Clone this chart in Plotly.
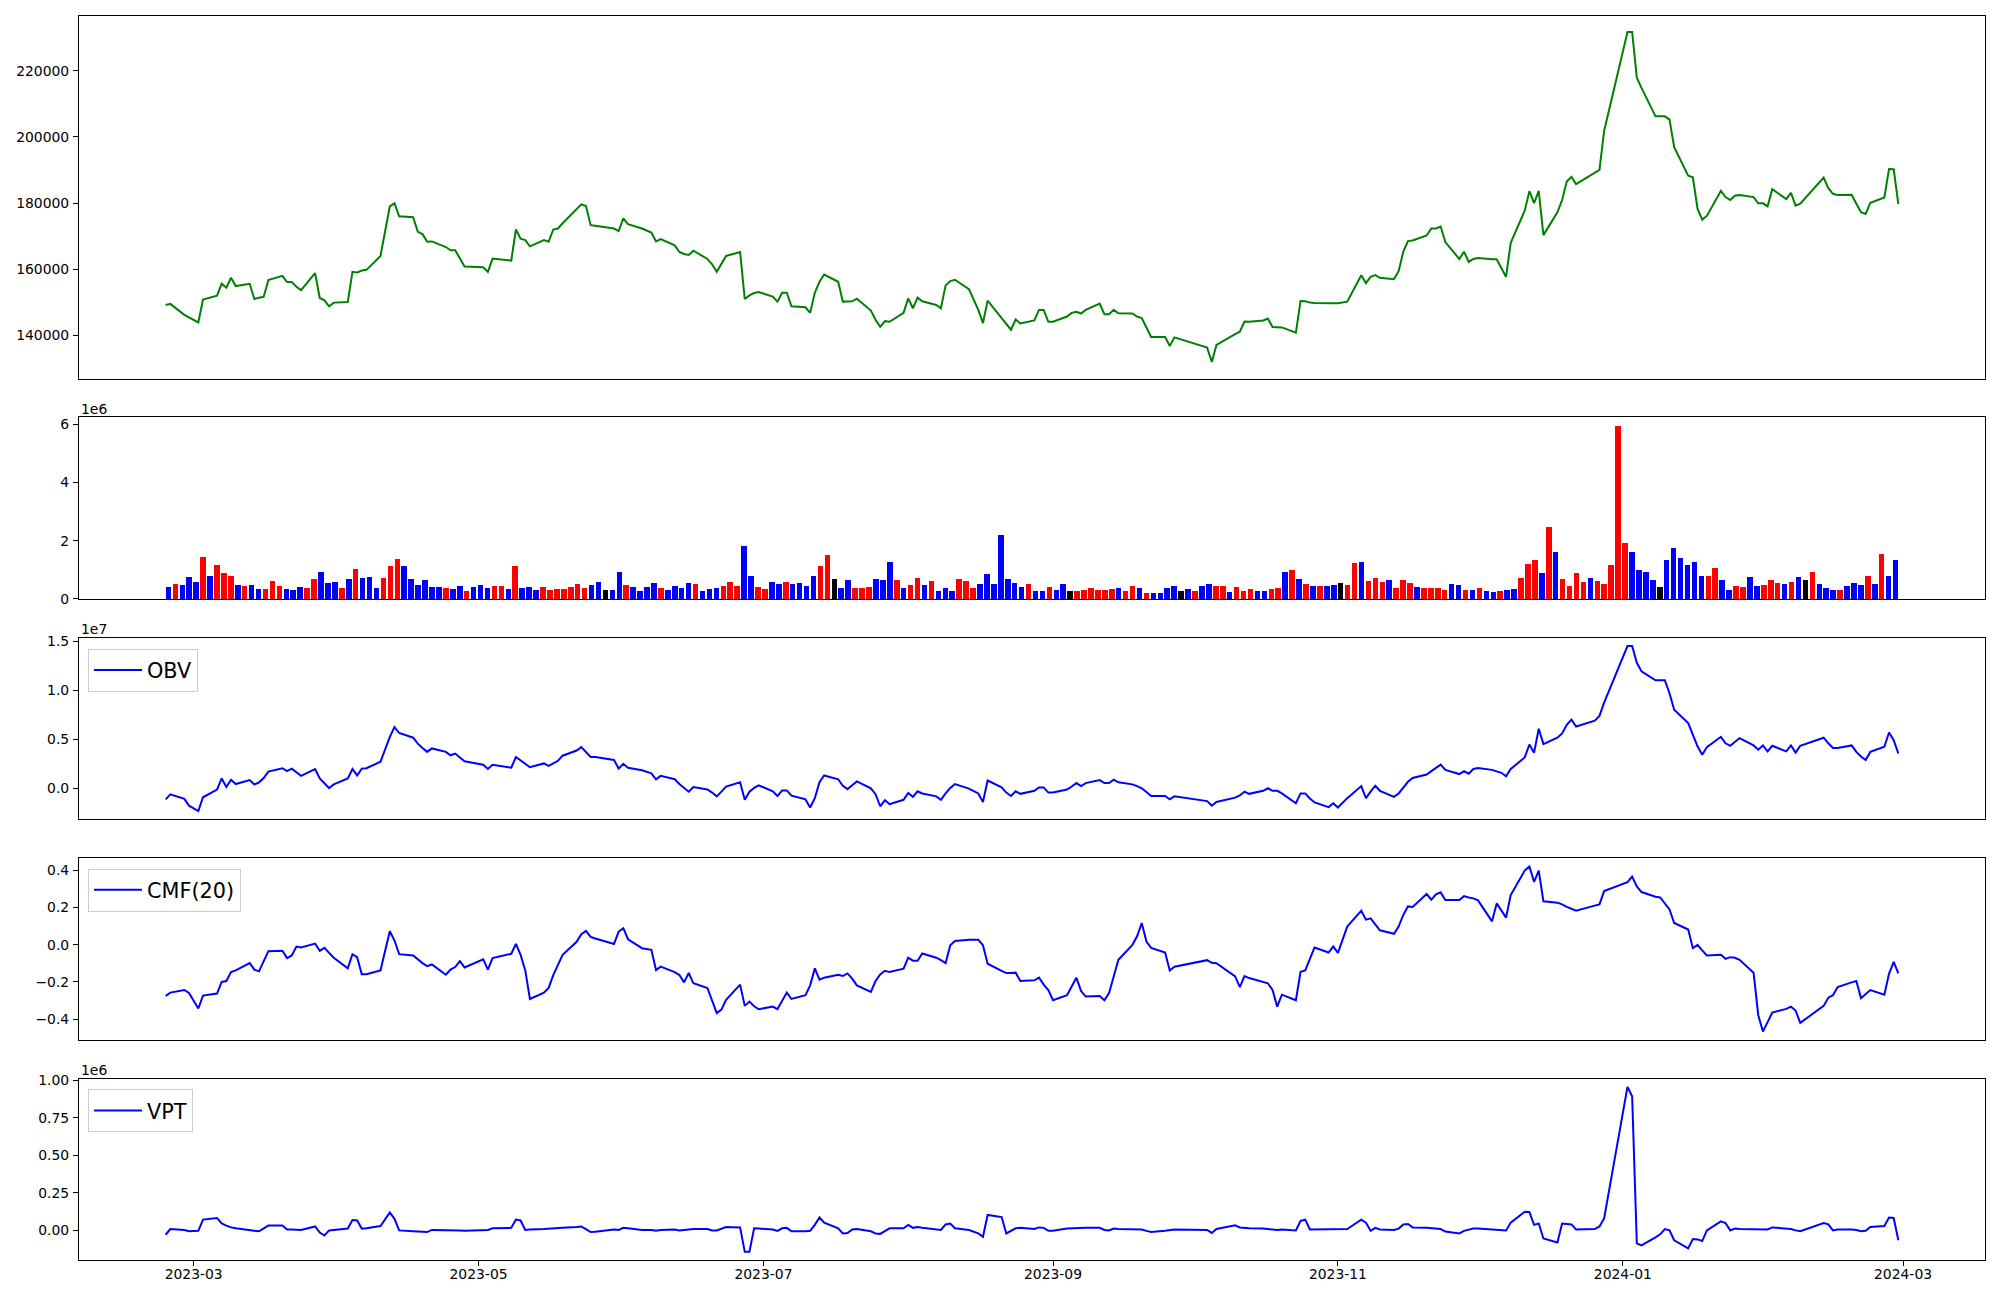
import pandas as pd
import plotly.graph_objects as go

# ---------------- data ----------------
KRX_HOLIDAYS = ["2023-03-01", "2023-05-01", "2023-05-05", "2023-05-29", "2023-06-06",
                "2023-08-15", "2023-09-28", "2023-09-29", "2023-10-02", "2023-10-03",
                "2023-10-09", "2023-12-25", "2023-12-29", "2024-01-01", "2024-02-09",
                "2024-02-12"]
dates = pd.bdate_range("2023-02-23", "2024-02-29", freq="C", holidays=KRX_HOLIDAYS)

close = [
    149200, 149500, 146200, 145400, 143900, 150800, 152000, 155600, 154400, 157400,
    154900, 155600, 151000, 151400, 151700, 156700, 158000, 156100, 156100, 154700,
    153700, 158800, 151300, 150600, 148800, 149900, 150100, 159200, 159000, 159600,
    159800, 164000, 171500, 179000, 179900, 176000, 175700, 171300, 170600, 168300,
    168400, 166700, 165700, 165700, 163300, 160800, 160600, 159200, 163200, 162600,
    172000, 169200, 168800, 166900, 168800, 168300, 172000, 172300, 173900, 178000,
    179600, 179100,
    173300, 173100, 172300, 171500, 175400, 173600, 172300, 171100, 168400, 169100,
    167200, 165200, 164600, 164300, 165600, 163100, 161500, 159200, 161800, 164000,
    165200, 151000, 152100, 152800, 153100, 151700, 150200, 152900, 152900, 148800,
    148500, 146800, 152900, 156200, 158400, 156200, 150200, 150200, 150300, 151100,
    147500, 144700, 142600, 144300, 144100, 146800, 151200, 148200, 151400, 150300,
    149200, 148200, 155100, 156400, 156800, 154000, 147700, 143700, 150500, 145200,
    143500, 141700, 144800, 143600,
    144500, 147700, 147700, 144100, 144100, 145700, 146800, 147100, 146600, 147700,
    149600, 146400, 146400, 147700, 146700, 146600, 145700, 145200, 142400, 139500,
    139500, 136800, 139400, 136300, 131950, 137100, 140400, 141100, 144200, 144100,
    144500, 145100, 142500, 142400, 142400, 140800, 150400, 150300, 149900, 149800,
    149600, 149700, 149700, 149900, 150200, 158200, 155800, 157700, 158200, 157400,
    157000, 159400, 165300, 168500, 168700, 170200, 172300, 172300, 172900, 168200,
    163100, 165300, 162200,
    163100, 163400, 163000, 163000, 160300, 157700, 168000,
    177700, 183600, 180000, 183700, 170300, 177200, 180900, 186500, 187900, 185700,
    189100, 190000, 201800,
    231700, 231700, 217900, 214800, 206200, 206200, 206200, 205200, 196900, 188300,
    187800, 178300, 175000, 176100, 183700, 181800, 180900, 182200, 182400, 181800,
    179900, 179900, 179000, 184200, 181200, 183100, 179200, 179800, 187700, 184500,
    182800, 182400, 182500, 179800, 177200, 176700, 180100, 181700, 190300, 190200,
    179700,
]

volume_e6 = [
    0.39, 0.49, 0.46, 0.73, 0.56, 1.44, 0.79, 1.14, 0.87, 0.77,
    0.46, 0.42, 0.46, 0.33, 0.33, 0.60, 0.42, 0.33, 0.29, 0.39,
    0.35, 0.66, 0.90, 0.52, 0.56, 0.35, 0.66, 1.00, 0.70, 0.73,
    0.35, 0.70, 1.10, 1.35, 1.10, 0.66, 0.46, 0.62, 0.39, 0.39,
    0.35, 0.33, 0.42, 0.25, 0.39, 0.46, 0.35, 0.42, 0.42, 0.33,
    1.10, 0.35, 0.39, 0.29, 0.39, 0.29, 0.33, 0.33, 0.39, 0.49,
    0.35, 0.46,
    0.56, 0.29, 0.29, 0.90, 0.46, 0.39, 0.25, 0.39, 0.52, 0.35,
    0.29, 0.42, 0.35, 0.52, 0.49, 0.25, 0.33, 0.35, 0.42, 0.56,
    0.42, 1.79, 0.79, 0.39, 0.33, 0.56, 0.49, 0.56, 0.49, 0.52,
    0.42, 0.79, 1.10, 1.48, 0.66, 0.35, 0.62, 0.35, 0.35, 0.39,
    0.66, 0.62, 1.27, 0.62, 0.35, 0.46, 0.70, 0.46, 0.60, 0.25,
    0.35, 0.25, 0.66, 0.60, 0.35, 0.49, 0.83, 0.49, 2.17, 0.66,
    0.52, 0.39, 0.49,
    0.25, 0.25, 0.39, 0.29, 0.49, 0.25, 0.25, 0.29, 0.35, 0.29,
    0.29, 0.33, 0.35, 0.25, 0.42, 0.35, 0.18, 0.18, 0.18, 0.35,
    0.42, 0.25, 0.33, 0.25, 0.42, 0.49, 0.42, 0.42, 0.22, 0.39,
    0.25, 0.33, 0.25, 0.25, 0.33, 0.35, 0.90, 0.98, 0.66, 0.49,
    0.42, 0.42, 0.42, 0.46, 0.52, 0.46, 1.22, 1.25, 0.60, 0.70,
    0.56, 0.62, 0.35, 0.62, 0.52, 0.39, 0.35, 0.35, 0.35, 0.29,
    0.49, 0.46, 0.29,
    0.29, 0.35, 0.25, 0.22, 0.25, 0.29, 0.33, 0.70, 1.17, 1.31,
    0.87, 2.44, 1.59, 0.66, 0.42, 0.87, 0.56, 0.70, 0.60, 0.49,
    1.14, 5.94, 1.90, 1.59, 0.98, 0.90, 0.62, 0.39, 1.31, 1.72,
    1.38, 1.14, 1.25, 0.79, 0.79, 1.04, 0.62, 0.29, 0.42, 0.39,
    0.73, 0.42, 0.46, 0.62, 0.52, 0.49, 0.56, 0.73, 0.62, 0.90,
    0.49, 0.35, 0.29, 0.29, 0.42, 0.52, 0.46, 0.79, 0.49, 1.53,
    0.79, 1.31,
]

# r = red, b = blue, k = black volume bar
bar_codes = ("brbbbrbrrr" "brbbrrrbbb" "rrbbbrbrbb" "brrrbbbbbb" "rbbrbbbrrb" "rbbbrrrrrr" "rb"
             "bkbbrbbbbr" "bbbbrbbbrr" "rbbrrbbrbb" "bbrrkbbrrr" "bbbrbrrbrb" "bbrrrbbbbb" "bbr"
             "bbrbbkrrrr" "rrbrrbrbbb" "bkbrbbrrbr" "rrbbrrbrbr" "brbbkrrbrr" "rbrrrbrrrr" "bbr"
             "brbbrbbrrr" "brbrrrrbrr" "rrrbbbbkbb" "bbbbrrbbrr" "bbrrrbrbkr" "bbbrbbbrbr" "bb")

obv_e7 = [
    -0.116, -0.064, -0.111, -0.180, -0.235, -0.094, -0.015, 0.098, 0.011, 0.085,
    0.041, 0.081, 0.037, 0.059, 0.103, 0.169, 0.203, 0.173, 0.199, 0.165,
    0.125, 0.195, 0.098, 0.050, 0.000, 0.037, 0.098, 0.195, 0.129, 0.199,
    0.203, 0.269, 0.396, 0.524, 0.624, 0.563, 0.515, 0.454, 0.410, 0.370,
    0.405, 0.370, 0.335, 0.353, 0.313, 0.274, 0.239, 0.195, 0.239, 0.208,
    0.318, 0.283, 0.248, 0.213, 0.252, 0.226, 0.252, 0.279, 0.331, 0.384,
    0.419, 0.370,
    0.318, 0.318, 0.287, 0.199, 0.248, 0.208, 0.182, 0.151, 0.090, 0.125,
    0.090, 0.041, 0.002, -0.037, 0.011, -0.015, -0.046, -0.085, -0.037, 0.015,
    0.059, -0.120, -0.037, 0.002, 0.028, -0.033, -0.081, -0.024, -0.024, -0.077,
    -0.116, -0.199, -0.103, 0.059, 0.129, 0.090, 0.024, -0.011, 0.028, 0.068,
    -0.002, -0.063, -0.186, -0.125, -0.164, -0.120, -0.050, -0.090, -0.033, -0.055,
    -0.085, -0.120, -0.055, 0.002, 0.041, -0.006, -0.055, -0.142, 0.077, 0.007,
    -0.046, -0.081, -0.033, -0.059,
    -0.028, 0.007, 0.007, -0.046, -0.046, -0.015, 0.016, 0.051, 0.020, 0.051,
    0.081, 0.051, 0.051, 0.086, 0.059, 0.038, 0.020, -0.002, -0.041, -0.081,
    -0.081, -0.116, -0.085, -0.133, -0.181, -0.142, -0.098, -0.076, -0.037, -0.059,
    -0.028, -0.002, -0.028, -0.028, -0.055, -0.155, -0.055, -0.055, -0.107, -0.147,
    -0.195, -0.155, -0.199, -0.151, -0.103, 0.020, -0.103, -0.037, 0.024, -0.028,
    -0.090, -0.055, 0.011, 0.064, 0.103, 0.138, 0.173, 0.208, 0.239, 0.186,
    0.143, 0.173, 0.147,
    0.195, 0.204, 0.186, 0.173, 0.156, 0.121, 0.195,
    0.313, 0.445, 0.362, 0.607, 0.449, 0.515, 0.559, 0.646, 0.699, 0.629,
    0.690, 0.738, 0.874,
    1.452, 1.452, 1.281, 1.194, 1.102, 1.102, 1.102, 0.970, 0.800, 0.664,
    0.541, 0.427, 0.340, 0.419, 0.524, 0.458, 0.432, 0.476, 0.511, 0.436,
    0.392, 0.436, 0.375, 0.432, 0.375, 0.436, 0.362, 0.432, 0.515, 0.458,
    0.410, 0.410, 0.436, 0.370, 0.322, 0.287, 0.370, 0.423, 0.568, 0.489,
    0.353,
]

cmf20 = [
    -0.275, -0.257, -0.243, -0.259, -0.342, -0.273, -0.262, -0.200, -0.195, -0.147,
    -0.138, -0.099, -0.134, -0.143, -0.088, -0.035, -0.033, -0.072, -0.058, -0.010,
    -0.015, 0.006, -0.033, -0.017, -0.044, -0.070, -0.127, -0.051, -0.067, -0.159,
    -0.159, -0.138, -0.033, 0.072, 0.022, -0.051, -0.058, -0.081, -0.099, -0.115,
    -0.106, -0.161, -0.134, -0.120, -0.088, -0.122, -0.079, -0.134, -0.072, -0.049,
    0.004, -0.054, -0.138, -0.291, -0.257, -0.232, -0.163, -0.108, -0.054, 0.015,
    0.056, 0.074,
    0.042, 0.033, 0.004, 0.070, 0.088, 0.029, -0.019, -0.028, -0.136, -0.118,
    -0.147, -0.163, -0.202, -0.152, -0.207, -0.232, -0.300, -0.367, -0.348, -0.296,
    -0.214, -0.328, -0.305, -0.330, -0.346, -0.332, -0.346, -0.300, -0.257, -0.291,
    -0.271, -0.218, -0.127, -0.188, -0.177, -0.161, -0.168, -0.154, -0.182, -0.218,
    -0.253, -0.195, -0.159, -0.140, -0.147, -0.129, -0.070, -0.086, -0.086, -0.047,
    -0.070, -0.083, -0.099, -0.003, 0.020, 0.026, 0.026, -0.003, -0.102, -0.140,
    -0.152, -0.152, -0.150, -0.195,
    -0.191, -0.177, -0.214, -0.243, -0.298, -0.271, -0.223, -0.177, -0.248, -0.278,
    -0.275, -0.298, -0.259, -0.170, -0.081, -0.001, 0.045, 0.116, 0.017, -0.017,
    -0.042, -0.138, -0.118, -0.083, -0.097, -0.099, -0.170, -0.227, -0.168, -0.179,
    -0.202, -0.207, -0.243, -0.332, -0.268, -0.298, -0.145, -0.138, -0.076, -0.015,
    -0.042, -0.010, -0.044, 0.026, 0.097, 0.182, 0.134, 0.141, 0.109, 0.077,
    0.058, 0.097, 0.159, 0.205, 0.202, 0.271, 0.241, 0.269, 0.280, 0.239,
    0.239, 0.260, 0.253,
    0.248, 0.237, 0.125, 0.221, 0.184, 0.145, 0.266,
    0.397, 0.419, 0.337, 0.397, 0.232, 0.225, 0.216, 0.202, 0.193, 0.182,
    0.209, 0.216, 0.287,
    0.335, 0.365, 0.312, 0.282, 0.257, 0.253, 0.218, 0.189, 0.116, 0.081,
    -0.019, -0.001, -0.031, -0.058, -0.054, -0.076, -0.067, -0.070, -0.081, -0.150,
    -0.378, -0.465, -0.415, -0.364, -0.344, -0.332, -0.353, -0.419, -0.328, -0.284,
    -0.271, -0.227, -0.202, -0.195, -0.287, -0.264, -0.243, -0.268, -0.156, -0.092,
    -0.154,
]

vpt_e6 = [
    -0.030, 0.008, 0.002, -0.007, -0.004, 0.071, 0.082, 0.045, 0.031, 0.019,
    0.013, 0.002, -0.001, -0.007, 0.013, 0.031, 0.031, 0.005, 0.005, 0.002,
    0.002, 0.025, -0.015, -0.035, -0.001, 0.002, 0.011, 0.068, 0.065, 0.011,
    0.013, 0.028, 0.073, 0.119, 0.076, -0.001, -0.007, -0.010, -0.010, -0.012,
    0.002, 0.002, 0.002, 0.002, -0.001, -0.004, -0.001, 0.002, 0.013, 0.016,
    0.071, 0.065, 0.002, 0.005, 0.008, 0.011, 0.013, 0.013, 0.016, 0.022,
    0.025, 0.008,
    -0.012, -0.010, 0.005, 0.002, 0.016, 0.013, 0.002, 0.002, -0.004, 0.002,
    0.005, -0.001, 0.002, 0.005, 0.008, 0.008, -0.001, -0.001, 0.011, 0.022,
    0.019, -0.144, -0.144, 0.013, 0.011, 0.005, -0.004, 0.013, 0.016, -0.007,
    -0.007, -0.004, 0.036, 0.085, 0.051, 0.013, -0.021, -0.018, 0.005, 0.008,
    -0.007, -0.021, -0.024, -0.004, 0.013, 0.013, 0.036, 0.016, 0.022, 0.016,
    0.008, 0.002, 0.039, 0.045, 0.013, 0.002, -0.021, -0.044, 0.102, 0.088,
    -0.021, -0.004, 0.013, 0.016,
    0.008, 0.019, 0.016, -0.004, -0.004, 0.011, 0.013, 0.013, 0.013, 0.016,
    0.016, 0.002, -0.001, 0.011, 0.008, 0.005, 0.005, 0.005, -0.004, -0.012,
    -0.004, 0.002, 0.005, 0.002, -0.018, 0.008, 0.033, 0.019, 0.016, 0.013,
    0.011, 0.008, 0.005, 0.002, 0.005, -0.001, 0.062, 0.071, 0.005, 0.005,
    0.005, 0.008, 0.008, 0.008, 0.008, 0.071, 0.051, -0.004, 0.016, 0.005,
    0.002, 0.011, 0.039, 0.042, 0.019, 0.016, 0.013, 0.011, 0.008, -0.009,
    -0.021, -0.004, 0.005,
    0.011, 0.011, 0.005, 0.005, 0.002, -0.001, 0.051,
    0.124, 0.122, 0.036, 0.045, -0.055, -0.081, 0.045, 0.042, 0.039, 0.005,
    0.008, 0.025, 0.079,
    0.956, 0.893, -0.087, -0.101, -0.047, -0.027, 0.008, -0.001, -0.067, -0.121,
    -0.058, -0.061, -0.072, -0.001, 0.059, 0.048, -0.001, 0.011, 0.008, 0.005,
    0.002, 0.002, 0.005, 0.019, 0.013, 0.008, -0.001, -0.007, 0.048, 0.039,
    -0.001, 0.005, 0.005, 0.002, -0.007, -0.004, 0.022, 0.028, 0.085, 0.082,
    -0.067,
]

month_ticks = ["2023-03-01", "2023-05-01", "2023-07-01", "2023-09-01",
               "2023-11-01", "2024-01-01", "2024-03-01"]
month_labels = ["2023-03", "2023-05", "2023-07", "2023-09", "2023-11", "2024-01", "2024-03"]

N = len(dates)
for arr in (close, volume_e6, bar_codes, obv_e7, cmf20, vpt_e6):
    assert len(arr) == N, (len(arr), N)

# ---------------- derived plotting values ----------------
volume = [v * 1e6 for v in volume_e6]
obv = [v * 1e7 for v in obv_e7]
vpt = [v * 1e6 for v in vpt_e6]
cmap = {"r": "#ff0000", "b": "#0000ff", "k": "#000000"}
bar_colors = [cmap[c] for c in bar_codes]


def pad_range(vals, frac=0.05):
    lo, hi = min(vals), max(vals)
    d = (hi - lo) * frac
    return [lo - d, hi + d]


t0, t1 = dates[0], dates[-1]
span = t1 - t0
date_range = [t0 - span * 0.05, t1 + span * 0.05]
bar_span = (N - 1) + 0.8
idx_range = [-0.4 - 0.05 * bar_span, N - 1 + 0.4 + 0.05 * bar_span]

H, W = 1300.0, 2000.0
XDOM = [79 / W, 1985 / W]


def ydom(top, bottom):
    return [1 - bottom / H, 1 - top / H]


FONT = "DejaVu Sans, Liberation Sans, sans-serif"
TICKFONT = dict(family=FONT, size=13.9, color="black")

fig = go.Figure()
fig.add_trace(go.Scatter(x=dates, y=close, mode="lines", line=dict(color="#008000", width=2),
                         showlegend=False, xaxis="x", yaxis="y"))
fig.add_trace(go.Bar(x=list(range(N)), y=volume, width=0.8, marker=dict(color=bar_colors, line=dict(width=0)),
                     showlegend=False, xaxis="x2", yaxis="y2"))
fig.add_trace(go.Scatter(x=dates, y=obv, mode="lines", name="OBV", line=dict(color="#0000ff", width=2),
                         xaxis="x3", yaxis="y3", legend="legend"))
fig.add_trace(go.Scatter(x=dates, y=cmf20, mode="lines", name="CMF(20)", line=dict(color="#0000ff", width=2),
                         xaxis="x4", yaxis="y4", legend="legend2"))
fig.add_trace(go.Scatter(x=dates, y=vpt, mode="lines", name="VPT", line=dict(color="#0000ff", width=2),
                         xaxis="x5", yaxis="y5", legend="legend3"))

axis_common = dict(showline=True, mirror=True, linecolor="black", linewidth=1.1,
                   showgrid=False, zeroline=False, tickfont=TICKFONT, automargin=False)

xa_hidden = dict(axis_common, showticklabels=False, ticks="")

doms = {
    "y": ydom(15.5, 378.5),
    "y2": ydom(417.4, 598.9),
    "y3": ydom(637.8, 819.3),
    "y4": ydom(858.2, 1039.7),
    "y5": ydom(1078.6, 1260.1),
}

yt = dict(ticks="outside", ticklen=5, tickwidth=1.1, tickcolor="black", ticklabelstandoff=1)

layout = dict(
    width=2000, height=1300, autosize=False,
    margin=dict(l=0, r=0, t=0, b=0),
    paper_bgcolor="white", plot_bgcolor="white",
    font=dict(family=FONT, size=13.9, color="black"),
    xaxis=dict(xa_hidden, domain=XDOM, anchor="y", type="date", range=date_range),
    xaxis2=dict(xa_hidden, domain=XDOM, anchor="y2", range=idx_range),
    xaxis3=dict(xa_hidden, domain=XDOM, anchor="y3", type="date", range=date_range),
    xaxis4=dict(xa_hidden, domain=XDOM, anchor="y4", type="date", range=date_range),
    xaxis5=dict(axis_common, domain=XDOM, anchor="y5", type="date", range=date_range,
                ticks="outside", ticklen=5, tickwidth=1.1, tickcolor="black",
                tickvals=month_ticks, ticktext=month_labels, ticklabelstandoff=-4),
    yaxis=dict(axis_common, **yt, domain=doms["y"], anchor="x", range=pad_range(close),
               tickvals=[140000, 160000, 180000, 200000, 220000],
               ticktext=["140000", "160000", "180000", "200000", "220000"]),
    yaxis2=dict(axis_common, **yt, domain=doms["y2"], anchor="x2", range=[0, max(volume) * 1.05],
                tickvals=[0, 2e6, 4e6, 6e6], ticktext=["0", "2", "4", "6"]),
    yaxis3=dict(axis_common, **yt, domain=doms["y3"], anchor="x3", range=pad_range(obv),
                tickvals=[0, 5e6, 1e7, 1.5e7], ticktext=["0.0", "0.5", "1.0", "1.5"]),
    yaxis4=dict(axis_common, **yt, domain=doms["y4"], anchor="x4", range=pad_range(cmf20),
                tickvals=[-0.4, -0.2, 0, 0.2, 0.4], ticktext=["\u22120.4", "\u22120.2", "0.0", "0.2", "0.4"]),
    yaxis5=dict(axis_common, **yt, domain=doms["y5"], anchor="x5", range=pad_range(vpt),
                tickvals=[0, 2.5e5, 5e5, 7.5e5, 1e6], ticktext=["0.00", "0.25", "0.50", "0.75", "1.00"]),
    bargap=0,
)

leg_common = dict(xanchor="left", yanchor="top", bgcolor="rgba(255,255,255,0.8)",
                  bordercolor="#cccccc", borderwidth=1, itemwidth=48,
                  font=dict(family=FONT, size=20.8, color="black"))
layout["legend"] = dict(leg_common, x=88 / W, y=1 - 649 / H)
layout["legend2"] = dict(leg_common, x=88 / W, y=1 - 868.7 / H)
layout["legend3"] = dict(leg_common, x=88 / W, y=1 - 1089.4 / H)

fig.update_layout(**layout)

for txt, ycen in (("1e6", 408.5), ("1e7", 628.9), ("1e6", 1069.7)):
    fig.add_annotation(text=txt, xref="paper", yref="paper", x=79 / W, y=1 - ycen / H,
                       xanchor="left", yanchor="middle", showarrow=False,
                       font=dict(family=FONT, size=13.9, color="black"))

fig.write_html("out.html", config={"displayModeBar": False},
               post_script="document.body.style.margin='0px';document.body.style.overflow='hidden';")
